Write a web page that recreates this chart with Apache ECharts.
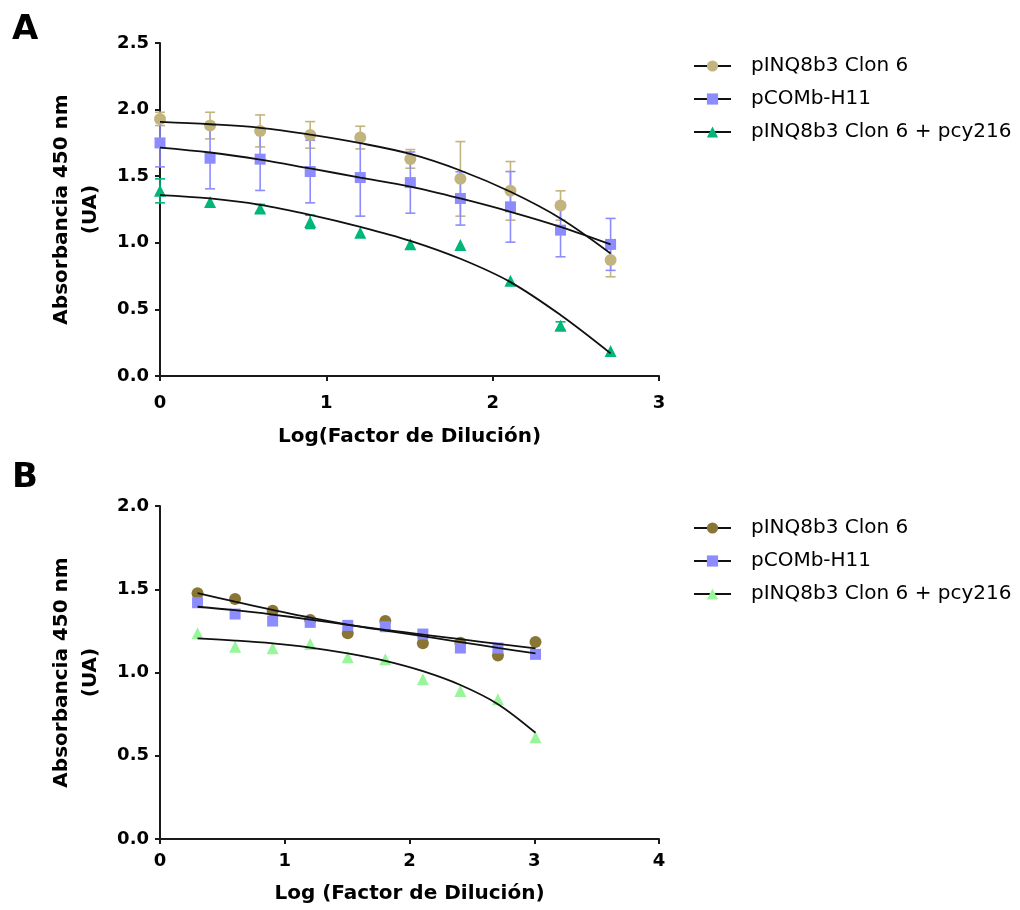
<!DOCTYPE html>
<html>
<head>
<meta charset="utf-8">
<script src="https://cdn.jsdelivr.net/npm/echarts@6/dist/echarts.min.js"></script>
<style>
  html, body { margin: 0; padding: 0; background: #fff; }
  #a { position: absolute; left: 0; top: 0; width: 1020px; height: 455px; }
  #b { position: absolute; left: 0; top: 455px; width: 1020px; height: 455px; }
</style>
</head>
<body>
<div id="a"></div>
<div id="b"></div>
<script>
// ---------- Data ----------
const seriesNames = ['pINQ8b3 Clon 6', 'pCOMb-H11', 'pINQ8b3 Clon 6 + pcy216'];

// Panel A: x = log10(dilution factor)
const xA = [0, 0.301, 0.602, 0.903, 1.204, 1.505, 1.806, 2.107, 2.408, 2.709];
const clon6A     = [1.93, 1.88, 1.84, 1.81, 1.79, 1.63, 1.48, 1.39, 1.28, 0.87];
const clon6AErr  = [0.05, 0.10, 0.12, 0.10, 0.085, 0.07, 0.28, 0.22, 0.11, 0.125];
const combA      = [1.75, 1.635, 1.628, 1.535, 1.49, 1.452, 1.333, 1.27, 1.095, 0.988];
const combAErr   = [0.18, 0.23, 0.235, 0.235, 0.29, 0.23, 0.20, 0.265, 0.20, 0.195];
const pcyA       = [1.39, 1.307, 1.258, 1.157, 1.075, 0.99, 0.983, 0.715, 0.377, 0.187];
const pcyAErr    = [0.09, 0.0, 0.03, 0.05, 0.0, 0.0, 0.0, 0.0, 0.03, 0.0];
// fitted curves at the same x positions
const fitClon6A  = [1.908, 1.89, 1.863, 1.812, 1.748, 1.667, 1.543, 1.383, 1.183, 0.92];
const fitCombA   = [1.715, 1.678, 1.625, 1.558, 1.49, 1.422, 1.333, 1.233, 1.12, 0.988];
const fitPcyA    = [1.358, 1.333, 1.285, 1.210, 1.120, 1.015, 0.880, 0.705, 0.458, 0.17];

// Panel B
const xB = [0.301, 0.602, 0.903, 1.204, 1.505, 1.806, 2.107, 2.408, 2.709, 3.010];
const clon6B    = [1.476, 1.441, 1.371, 1.315, 1.235, 1.309, 1.175, 1.178, 1.102, 1.183];
const combB     = [1.419, 1.351, 1.309, 1.301, 1.283, 1.275, 1.231, 1.147, 1.147, 1.109];
const pcyB      = [1.235, 1.155, 1.145, 1.171, 1.091, 1.079, 0.959, 0.889, 0.839, 0.611];
const fitClon6B = [1.476, 1.425, 1.376, 1.329, 1.288, 1.252, 1.218, 1.183, 1.148, 1.115];
const fitCombB  = [1.395, 1.374, 1.348, 1.318, 1.286, 1.256, 1.228, 1.200, 1.172, 1.145];
const fitPcyB   = [1.205, 1.192, 1.175, 1.150, 1.115, 1.070, 1.008, 0.925, 0.810, 0.638];

const yTicksA = { min: 0, max: 2.5, interval: 0.5 };
const xTicksA = { min: 0, max: 3, interval: 1 };
const yTicksB = { min: 0, max: 2.0, interval: 0.5 };
const xTicksB = { min: 0, max: 4, interval: 1 };

// ---------- Styles ----------
const FONT = '"DejaVu Sans", "Liberation Sans", Arial, sans-serif';
const colorsA = ['#C2B47E', '#8C8CFF', '#00B67A'];
const colorsB = ['#8A7634', '#8C8CFF', '#99F599'];
const symbols = ['circle', 'rect', 'triangle'];

function axisCommon(extra, labelMargin, isX) {
  return Object.assign({
    type: 'value',
    splitLine: { show: false },
    axisLine: { show: true, onZero: false, lineStyle: { color: '#1a1a1a', width: 2 } },
    axisTick: { show: true, length: 5, inside: false, lineStyle: { color: '#1a1a1a', width: 2 } },
    axisLabel: { color: '#000', fontFamily: FONT, fontWeight: 'bold', fontSize: 18, margin: labelMargin,
      formatter: v => isX ? String(v) : v.toFixed(1) },
    nameLocation: 'middle',
    nameTextStyle: { color: '#000', fontFamily: FONT, fontWeight: 'bold', fontSize: 20, lineHeight: 29 }
  }, extra);
}

function errBarSeries(xs, ys, es, color) {
  return {
    type: 'custom',
    silent: true,
    z: 1,
    data: xs.map((x, i) => [x, ys[i], es[i]]),
    renderItem: function (params, api) {
      const x = api.value(0), y = api.value(1), e = api.value(2);
      if (!e) return null;
      const t = api.coord([x, y + e]);
      const b = api.coord([x, y - e]);
      const hw = 5;
      const st = { stroke: color, lineWidth: 1.6 };
      return {
        type: 'group',
        children: [
          { type: 'line', shape: { x1: t[0], y1: t[1], x2: b[0], y2: b[1] }, style: st },
          { type: 'line', shape: { x1: t[0] - hw, y1: t[1], x2: t[0] + hw, y2: t[1] }, style: st },
          { type: 'line', shape: { x1: b[0] - hw, y1: b[1], x2: b[0] + hw, y2: b[1] }, style: st }
        ]
      };
    }
  };
}

function pointSeries(xs, ys, color, symbol, size) {
  return {
    type: 'scatter',
    name: '_pts',
    symbol: symbol,
    symbolSize: size,
    itemStyle: { color: color, opacity: 1 },
    z: 3,
    silent: true,
    data: xs.map((x, i) => [x, ys[i]])
  };
}

function fitSeries(name, xs, ys, color, symbol) {
  return {
    type: 'line',
    name: name,
    smooth: 0.35,
    showSymbol: false,
    symbol: symbol,
    symbolSize: 11,
    itemStyle: { color: color },
    lineStyle: { color: '#111', width: 1.8 },
    z: 4,
    silent: true,
    data: xs.map((x, i) => [x, ys[i]])
  };
}

function legendCfg(top) {
  return {
    data: seriesNames,
    orient: 'vertical',
    left: 693,
    top: top,
    padding: 0,
    itemWidth: 37,
    itemHeight: 14,
    itemGap: 13,
    selectedMode: false,
    textStyle: { fontFamily: FONT, fontSize: 20, color: '#000', lineHeight: 20, padding: [0, 0, 0, 15] }
  };
}

// ---------- Panel A ----------
const chartA = echarts.init(document.getElementById('a'), null, { renderer: 'canvas' });
chartA.setOption({
  animation: false,
  backgroundColor: '#fff',
  graphic: [{ type: 'text', left: 12, top: 13, style: { text: 'A', font: 'bold 34px ' + FONT, fill: '#000' } }],
  grid: { left: 160, top: 43, width: 499, height: 333, outerBoundsMode: 'none', containLabel: false },
  legend: legendCfg(56),
  xAxis: axisCommon(Object.assign({ name: 'Log(Factor de Dilución)', nameGap: 46 }, xTicksA), 18, true),
  yAxis: axisCommon(Object.assign({ name: 'Absorbancia 450 nm\n(UA)', nameGap: 55 }, yTicksA), 11, false),
  series: [
    errBarSeries(xA, clon6A, clon6AErr, colorsA[0]),
    errBarSeries(xA, combA, combAErr, colorsA[1]),
    errBarSeries(xA, pcyA, pcyAErr, colorsA[2]),
    pointSeries(xA, clon6A, colorsA[0], symbols[0], 12),
    pointSeries(xA, combA, colorsA[1], symbols[1], 11),
    pointSeries(xA, pcyA, colorsA[2], symbols[2], 12),
    fitSeries(seriesNames[0], xA, fitClon6A, colorsA[0], symbols[0]),
    fitSeries(seriesNames[1], xA, fitCombA, colorsA[1], symbols[1]),
    fitSeries(seriesNames[2], xA, fitPcyA, colorsA[2], symbols[2])
  ]
});

// ---------- Panel B ----------
const chartB = echarts.init(document.getElementById('b'), null, { renderer: 'canvas' });
chartB.setOption({
  animation: false,
  backgroundColor: '#fff',
  graphic: [{ type: 'text', left: 12, top: 6, style: { text: 'B', font: 'bold 34px ' + FONT, fill: '#000' } }],
  grid: { left: 160, top: 51, width: 499, height: 333, outerBoundsMode: 'none', containLabel: false },
  legend: legendCfg(63),
  xAxis: axisCommon(Object.assign({ name: 'Log (Factor de Dilución)', nameGap: 40 }, xTicksB), 13, true),
  yAxis: axisCommon(Object.assign({ name: 'Absorbancia 450 nm\n(UA)', nameGap: 55 }, yTicksB), 11, false),
  series: [
    pointSeries(xB, clon6B, colorsB[0], symbols[0], 12),
    pointSeries(xB, combB, colorsB[1], symbols[1], 11),
    pointSeries(xB, pcyB, colorsB[2], symbols[2], 12),
    fitSeries(seriesNames[0], xB, fitClon6B, colorsB[0], symbols[0]),
    fitSeries(seriesNames[1], xB, fitCombB, colorsB[1], symbols[1]),
    fitSeries(seriesNames[2], xB, fitPcyB, colorsB[2], symbols[2])
  ]
});
</script>
</body>
</html>
